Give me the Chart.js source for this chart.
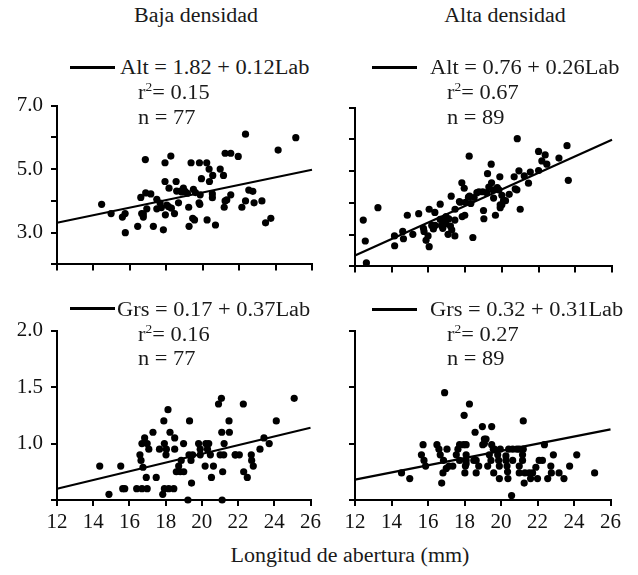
<!DOCTYPE html>
<html>
<head>
<meta charset="utf-8">
<script src="https://cdn.jsdelivr.net/npm/chart.js@4/dist/chart.umd.min.js"></script>
<style>
  html, body { margin: 0; padding: 0; background: #fff; }
  #wrap { position: relative; width: 638px; height: 575px; overflow: hidden; font-family: "Liberation Serif", "Times New Roman", serif; color: #1a1a1a; }
  canvas { position: absolute; }
  .txt { position: absolute; font-size: 20px; line-height: 20px; white-space: nowrap; transform: scaleX(1.12); transform-origin: left center; }
  .ctr { position: absolute; font-size: 20px; line-height: 20px; white-space: nowrap; text-align: center; transform: scaleX(1.1); transform-origin: center center; }
  .key { position: absolute; height: 3px; background: #000; }
  sup { font-size: 0.6em; line-height: 0; }
</style>
</head>
<body>
<div id="wrap">
  <div class="ctr" style="left:96px; top:5px; width:200px;">Baja densidad</div>
  <div class="ctr" style="left:405px; top:5px; width:200px;">Alta densidad</div>

  <canvas id="c1" width="325" height="200" style="left:0; top:85px;"></canvas>
  <canvas id="c2" width="305" height="200" style="left:320px; top:87px;"></canvas>
  <canvas id="c3" width="325" height="225" style="left:0; top:310px;"></canvas>
  <canvas id="c4" width="305" height="225" style="left:320px; top:310px;"></canvas>

  <div class="key" style="left:70px; top:66px; width:45px;"></div>
  <div class="txt" style="left:120px; top:57px;">Alt = 1.82 + 0.12Lab</div>
  <div class="txt" style="left:138px; top:82px;">r<sup>2</sup>= 0.15</div>
  <div class="txt" style="left:138px; top:107px;">n = 77</div>

  <div class="key" style="left:372px; top:66px; width:45px;"></div>
  <div class="txt" style="left:430px; top:57px;">Alt = 0.76 + 0.26Lab</div>
  <div class="txt" style="left:447px; top:82px;">r<sup>2</sup>= 0.67</div>
  <div class="txt" style="left:447px; top:107px;">n = 89</div>

  <div class="key" style="left:70px; top:307px; width:45px;"></div>
  <div class="txt" style="left:117px; top:299px;">Grs = 0.17 + 0.37Lab</div>
  <div class="txt" style="left:138px; top:324px;">r<sup>2</sup>= 0.16</div>
  <div class="txt" style="left:138px; top:348px;">n = 77</div>

  <div class="key" style="left:372px; top:308px; width:45px;"></div>
  <div class="txt" style="left:430px; top:299px;">Grs = 0.32 + 0.31Lab</div>
  <div class="txt" style="left:447px; top:324px;">r<sup>2</sup>= 0.27</div>
  <div class="txt" style="left:447px; top:348px;">n = 89</div>

  <div class="ctr" style="left:200px; top:545px; width:300px;">Longitud de abertura (mm)</div>
</div>
<script>
// x ticks shared by all four panels
const xTicks = [12, 14, 16, 18, 20, 22, 24, 26];
const altTickLabels = [3, 5, 7];
const grsTickLabels = [1.0, 1.5, 2.0];

// regression line ends (read at x = 12 and x = 26)
const fitX = [12, 26];
const bajaAltFit = [3.31, 4.98];
const altaAltFit = [2.34, 5.99];
const bajaGrsFit = [0.60, 1.14];
const altaGrsFit = [0.68, 1.125];

// Baja densidad – Alt
const bajaAltX = [14.45,14.97,15.59,15.74,15.75,16.43,16.60,16.65,16.74,16.85,16.87,17.15,16.93,17.29,17.48,17.66,17.73,17.84,17.93,17.93,
  17.95,18.12,18.15,18.25,18.45,18.54,18.57,18.67,18.79,18.94,19.03,19.23,19.25,19.36,19.49,19.45,19.55,19.60,19.82,19.86,
  19.84,19.93,20.22,20.24,20.35,20.37,20.55,20.53,20.70,20.96,21.14,21.23,21.18,21.23,21.54,21.54,21.95,22.15,22.35,22.35,
  22.53,22.75,22.82,23.25,23.45,23.74,24.14,25.11,18.85,17.48,18.28,19.16,20.53,18.03,21.32,19.80,16.74];
const bajaAltY = [3.89,3.60,3.49,3.60,3.00,3.20,4.11,3.60,3.49,5.30,4.25,4.22,3.75,3.20,4.05,3.93,3.79,3.09,5.20,4.61,
  3.56,3.82,4.40,5.41,3.60,4.61,4.31,3.94,4.31,4.40,4.30,3.80,3.20,5.20,4.36,3.45,3.40,4.26,5.20,4.19,
  3.89,4.70,5.20,3.40,5.00,4.61,4.80,4.10,3.24,5.00,4.80,4.00,3.80,5.50,5.50,4.19,5.40,3.80,6.10,4.00,
  4.34,4.30,3.94,4.00,3.31,3.45,5.60,5.99,4.28,3.75,3.77,4.24,4.22,3.87,4.03,3.94,3.59];

// Alta densidad – Alt
const altaAltX = [12.45,12.56,12.62,13.25,14.15,14.16,14.60,14.64,14.85,15.15,15.47,15.73,15.76,15.87,15.98,16.04,16.04,16.18,16.27,16.35,
  16.64,16.71,16.78,16.87,16.96,17.07,17.11,17.20,17.24,17.44,17.44,17.45,17.73,17.82,17.84,17.95,17.98,18.02,18.22,18.24,
  18.31,18.42,18.49,18.75,18.96,19.00,19.02,19.18,19.22,19.42,19.44,19.51,19.65,19.75,19.84,19.89,19.91,19.91,20.00,20.09,
  20.20,20.40,20.67,20.82,20.84,20.93,21.00,21.22,21.45,22.00,22.00,22.18,22.36,22.45,23.11,23.55,23.62,
  16.36,16.96,17.69,18.18,19.29,19.55,20.00,20.73,21.55,17.27,18.64,16.64];
const altaAltY = [3.46,2.80,2.11,3.85,2.96,2.65,3.10,2.87,3.61,3.01,3.66,3.20,3.10,2.82,2.96,2.62,3.80,3.29,3.18,3.70,
  3.96,3.29,3.20,3.40,3.57,3.01,3.50,3.27,4.21,2.96,3.46,3.80,4.02,4.63,3.57,4.46,3.61,4.02,5.47,4.21,
  3.98,2.91,4.17,4.35,4.35,3.76,3.50,4.32,4.92,5.22,4.63,4.41,3.61,4.48,4.41,4.82,3.94,3.85,4.24,4.07,
  4.07,4.27,4.82,4.41,6.02,5.01,3.80,4.85,4.62,5.02,5.62,5.32,5.51,5.22,5.41,5.80,4.71,
  3.29,3.34,4.04,4.18,4.50,4.15,3.94,4.44,4.97,3.15,4.32,3.48];

// Baja densidad – Grs
const bajaGrsX = [14.36,14.87,15.52,15.63,15.74,16.40,16.58,16.64,16.69,16.69,16.75,16.84,16.93,16.98,16.98,17.30,17.48,17.66,17.84,17.90,
  17.93,17.93,18.02,18.13,18.17,18.24,18.45,18.50,18.50,18.59,18.72,18.81,18.86,18.99,19.23,19.29,19.32,19.40,19.43,19.49,
  19.82,19.91,20.18,20.22,20.31,20.38,20.47,20.53,20.64,20.92,21.08,21.10,21.12,21.15,21.21,21.23,21.50,21.52,21.85,22.07,
  22.29,22.31,22.51,22.73,22.75,22.84,23.21,23.43,23.72,24.11,25.10,17.07,19.00,19.91,21.84,21.01,18.04];
const bajaGrsY = [0.80,0.55,0.80,0.60,0.60,0.60,0.90,0.85,1.00,0.60,0.79,1.05,0.70,0.60,1.00,1.10,0.70,0.95,0.55,1.20,
  0.60,1.00,0.90,1.30,0.60,1.10,0.60,1.05,0.95,0.75,0.80,0.75,0.85,1.00,0.50,0.90,1.20,0.85,0.65,0.90,
  1.00,0.90,0.80,1.00,0.95,1.00,0.90,0.70,0.80,1.35,1.40,1.10,0.50,0.75,0.90,1.00,1.20,1.10,0.90,0.90,
  1.35,0.75,0.70,0.90,0.85,0.80,0.95,1.05,1.00,1.20,1.40,0.95,0.75,0.95,0.90,0.90,0.95];

// Alta densidad – Grs
const altaGrsX = [14.55,15.00,15.64,15.73,15.78,15.87,16.49,16.60,16.67,16.75,16.82,16.85,16.91,17.04,17.15,17.36,17.55,17.73,17.73,17.95,
  17.98,18.02,18.05,18.09,18.27,18.51,18.58,18.64,18.78,18.98,19.00,19.09,19.27,19.36,19.49,19.49,19.58,19.60,19.82,19.87,
  19.91,19.96,20.27,20.33,20.38,20.42,20.58,20.64,20.87,21.00,21.18,21.18,21.22,21.22,21.27,21.31,21.55,21.62,22.00,22.09,
  22.27,22.38,22.56,22.73,22.76,22.87,23.18,23.45,23.76,24.15,25.13,
  18.09,19.18,19.64,20.64,18.09,17.64,19.91,21.00,17.00,21.91,18.64,21.73,21.00,19.45,20.27,19.09,20.36,18.09];
const altaGrsY = [0.74,0.69,0.90,0.99,0.85,0.80,0.99,0.95,0.90,0.65,0.74,0.85,1.45,0.95,0.80,0.80,0.90,0.99,0.85,0.99,
  1.25,0.74,0.80,0.85,1.35,0.85,1.10,0.74,0.80,1.15,0.99,1.04,0.80,0.90,1.15,0.99,0.95,0.74,0.90,0.85,
  0.69,0.95,0.85,0.80,0.69,0.95,0.54,0.95,0.95,0.80,0.90,0.85,1.20,0.95,0.65,0.74,0.74,0.69,0.69,0.85,
  0.85,0.99,0.69,0.80,0.74,0.90,0.74,0.69,0.80,0.90,0.74,
  0.90,1.04,0.95,0.85,0.99,0.95,0.80,0.95,0.78,0.79,0.85,0.74,0.74,0.85,0.89,1.00,0.75,0.82];

const FONT = { family: '"Liberation Serif", "Times New Roman", serif', size: 21 };
const INK = '#000';

function pts(xs, ys) { return xs.map((x, i) => ({ x: x, y: ys[i] })); }

function panel(id, xs, ys, fit, yMin, yMax, yStep, yLabels, yWidth, xLabels, xHeight, padTop) {
  new Chart(document.getElementById(id), {
    type: 'scatter',
    data: {
      datasets: [
        { data: pts(xs, ys), backgroundColor: INK, borderColor: INK, pointRadius: 3.6, pointBorderWidth: 0 },
        { type: 'line', data: pts(fitX, fit), borderColor: INK, borderWidth: 2.2, pointRadius: 0, fill: false }
      ]
    },
    options: {
      responsive: false, animation: false, clip: false,
      layout: { padding: { top: padTop, right: 13, left: 0, bottom: 0 } },
      plugins: { legend: { display: false }, tooltip: { enabled: false } },
      scales: {
        x: {
          type: 'linear', min: 12, max: 26,
          afterBuildTicks: s => { s.ticks = xTicks.map(v => ({ value: v })); },
          afterFit: s => { s.height = xHeight; },
          ticks: { display: xLabels, autoSkip: false, maxRotation: 0, padding: 4, color: '#111', font: FONT },
          grid: { drawOnChartArea: false, drawTicks: true, tickLength: 6, color: INK, lineWidth: 2 },
          border: { display: true, color: INK, width: 2 }
        },
        y: {
          min: yMin, max: yMax,
          ticks: {
            stepSize: yStep, padding: 8, color: '#111', font: FONT,
            callback: v => yLabels.some(l => Math.abs(l - v) < 1e-6) ? v.toFixed(1) : ''
          },
          afterFit: s => { s.width = yWidth; },
          grid: { drawOnChartArea: false, drawTicks: true, tickLength: 6, color: INK, lineWidth: 2 },
          border: { display: true, color: INK, width: 2 }
        }
      }
    }
  });
}

panel('c1', bajaAltX, bajaAltY, bajaAltFit, 2, 7, 1, altTickLabels, 57, false, 11, 8);
panel('c2', altaAltX, altaAltY, altaAltFit, 2, 7, 1, [], 35, false, 11, 10);
panel('c3', bajaGrsX, bajaGrsY, bajaGrsFit, 0.5, 2, 0.5, grsTickLabels, 57, true, 35, 13);
panel('c4', altaGrsX, altaGrsY, altaGrsFit, 0.5, 2, 0.5, [], 35, true, 35, 12);
</script>
</body>
</html>
